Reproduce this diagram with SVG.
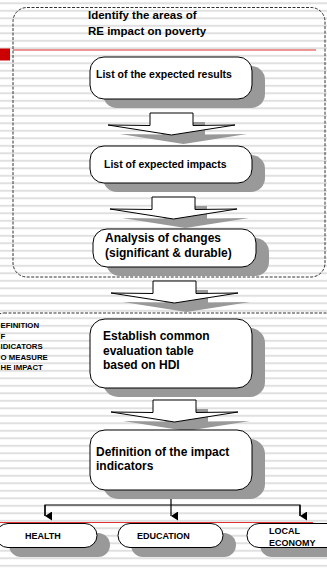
<svg xmlns="http://www.w3.org/2000/svg" width="327" height="570" viewBox="0 0 327 570">
  <defs>
    <pattern id="stripes" patternUnits="userSpaceOnUse" x="0" y="2.3" width="20" height="7.5">
      <rect x="0" y="0" width="20" height="2" fill="#e0e0e0"/>
    </pattern>
    <!-- block arrow: stem 43 wide, flat head 127 wide -->
    <path id="blockArrow" d="M0,0 H43 V12.5 L85,12 L21.5,22 L-42,12 L0,12.5 Z"/>
    <marker id="tri" markerWidth="9" markerHeight="8" refX="4.5" refY="7" orient="auto-start-reverse" markerUnits="userSpaceOnUse">
      <path d="M0,0 L9,0 L4.5,7 Z" fill="#000"/>
    </marker>
  </defs>
  <style>
    .shadow { fill: #999999; }
    .box { fill: #ffffff; stroke: #000; stroke-width: 1; }
    .arrow { fill: #ffffff; stroke: #000; stroke-width: 1; stroke-linejoin: miter; }
    .frame { fill: none; stroke: #333; stroke-width: 1; stroke-dasharray: 3 1.5; }
    .t { font-family: "Liberation Sans", Arial, sans-serif; font-weight: bold; fill: #000; }
    .side { font-family: "Liberation Sans", Arial, sans-serif; font-weight: bold; fill: #000; font-size: 7.8px; }
    .conn { fill: none; stroke: #000; stroke-width: 1.2; }
    .red { stroke: #dd3333; stroke-width: 1.2; }
  </style>

  <!-- striped background -->
  <rect x="0" y="0" width="327" height="570" fill="#ffffff"/>
  <rect x="0" y="0" width="327" height="570" fill="url(#stripes)"/>

  <!-- dashed frames -->
  <g id="frames">
    <rect class="frame" x="13" y="7.5" width="312" height="269.5" rx="14"/>
    <rect class="frame" x="-8" y="313" width="350" height="280" rx="12"/>
  </g>

  <!-- red marker and rules -->
  <g id="rules">
    <rect x="0" y="48.5" width="10" height="12" fill="#cc0000"/>
    <line class="red" x1="13" y1="50" x2="316" y2="50"/>
    <line class="red" x1="0" y1="522.5" x2="313" y2="522.5"/>
  </g>

  <g id="title">
    <text class="t" x="88" y="19" font-size="11.5">Identify the areas of</text>
    <text class="t" x="88" y="35" font-size="11.5">RE impact on poverty</text>
  </g>

  <g id="side-label">
    <text class="side" x="0.5" y="328">EFINITION</text>
    <text class="side" x="0.5" y="338.5">F</text>
    <text class="side" x="0.5" y="349">IDICATORS</text>
    <text class="side" x="0.5" y="359.5">O MEASURE</text>
    <text class="side" x="0.5" y="370">HE IMPACT</text>
  </g>

  <!-- block arrows between steps -->
  <g id="connectors">
    <use href="#blockArrow" class="shadow" transform="translate(162,122)"/>
    <use href="#blockArrow" class="arrow" transform="translate(150,113)"/>
    <use href="#blockArrow" class="shadow" transform="translate(164,206)"/>
    <use href="#blockArrow" class="arrow" transform="translate(152,197)"/>
    <use href="#blockArrow" class="shadow" transform="translate(165,290)"/>
    <use href="#blockArrow" class="arrow" transform="translate(153,281)"/>
    <use href="#blockArrow" class="shadow" transform="translate(165,409)"/>
    <use href="#blockArrow" class="arrow" transform="translate(153,400)"/>

    <!-- tree to the three domains -->
    <polyline class="conn" points="171,490 171,505"/>
    <polyline class="conn" points="45,516 45,505 300,505 300,516"/>
    <line class="conn" x1="45" y1="505" x2="45" y2="516" marker-end="url(#tri)"/>
    <line class="conn" x1="171" y1="505" x2="171" y2="516" marker-end="url(#tri)"/>
    <line class="conn" x1="300" y1="505" x2="300" y2="516" marker-end="url(#tri)"/>
  </g>

  <g id="expected-results">
    <rect class="shadow" x="103" y="66" width="162" height="42" rx="14"/>
    <rect class="box" x="90" y="57" width="162" height="42" rx="14"/>
    <text class="t" x="96" y="77.5" font-size="10.5">List of the expected results</text>
  </g>

  <g id="expected-impacts">
    <rect class="shadow" x="103" y="155" width="162" height="37" rx="14"/>
    <rect class="box" x="90" y="146" width="162" height="37" rx="14"/>
    <text class="t" x="104" y="167.5" font-size="10.5">List of expected impacts</text>
  </g>

  <g id="analysis">
    <rect class="shadow" x="106" y="238" width="163" height="38" rx="14"/>
    <rect class="box" x="93" y="229" width="163" height="38" rx="14"/>
    <text class="t" x="105" y="242" font-size="12">Analysis of changes</text>
    <text class="t" x="105" y="257" font-size="12">(significant &amp; durable)</text>
  </g>

  <g id="evaluation-table">
    <rect class="shadow" x="103" y="328" width="162" height="69" rx="15"/>
    <rect class="box" x="90" y="319" width="162" height="69" rx="15"/>
    <text class="t" x="103" y="340" font-size="12">Establish common</text>
    <text class="t" x="103" y="355" font-size="12">evaluation table</text>
    <text class="t" x="103" y="369" font-size="12">based on HDI</text>
  </g>

  <g id="impact-indicators">
    <rect class="shadow" x="103" y="439" width="162" height="60" rx="15"/>
    <rect class="box" x="90" y="430" width="162" height="60" rx="15"/>
    <text class="t" x="96" y="456" font-size="12">Definition of the impact</text>
    <text class="t" x="96" y="470" font-size="12">indicators</text>
  </g>

  <g id="health">
    <rect class="shadow" x="9" y="533" width="101" height="24" rx="12"/>
    <rect class="box" x="-4" y="523.5" width="101" height="24" rx="12"/>
    <text class="t" x="25" y="539" font-size="9">HEALTH</text>
  </g>

  <g id="education">
    <rect class="shadow" x="131" y="533" width="105" height="24" rx="12"/>
    <rect class="box" x="118" y="523.5" width="105" height="24" rx="12"/>
    <text class="t" x="137" y="539" font-size="9">EDUCATION</text>
  </g>

  <g id="local-economy">
    <rect class="shadow" x="260" y="533" width="100" height="24" rx="12"/>
    <rect class="box" x="247" y="523.5" width="100" height="24" rx="12"/>
    <text class="t" x="269" y="534" font-size="9">LOCAL</text>
    <text class="t" x="269" y="546" font-size="9">ECONOMY</text>
  </g>
</svg>
